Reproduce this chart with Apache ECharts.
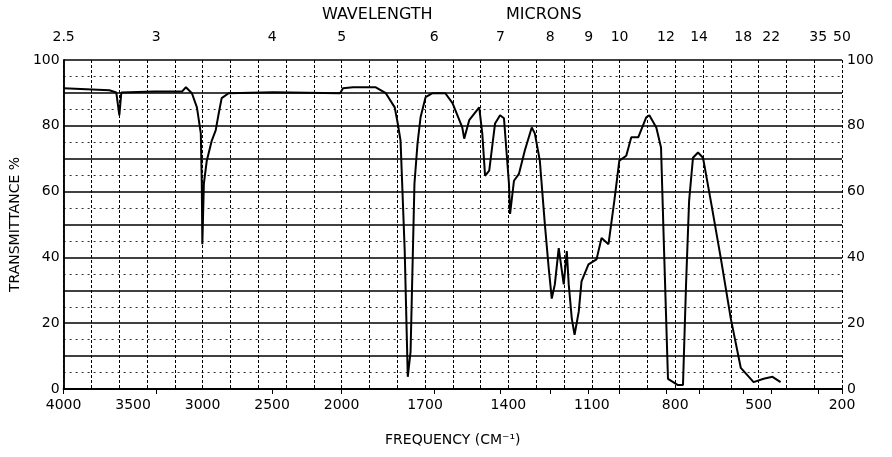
<!DOCTYPE html>
<html>
<head>
<meta charset="UTF-8">
<script src="https://cdn.jsdelivr.net/npm/echarts@6/dist/echarts.min.js"></script>
</head>
<body style="margin:0;background:#fff">
<div id="chart" style="width:892px;height:457px;"></div>
<script>
// spectrum: frequency (cm-1) and transmittance (%)
var waveNumbers = [4000, 3671, 3621, 3599, 3585, 3349, 3149, 3120, 3077, 3041, 3013, 3006, 3002, 2991, 2970, 2934, 2906, 2884, 2863, 2813, 2491, 2011, 1995, 1959, 1877, 1841, 1809, 1798, 1788, 1773, 1762, 1752, 1738, 1727, 1716, 1698, 1673, 1627, 1601, 1566, 1559, 1541, 1505, 1494, 1484, 1469, 1448, 1430, 1416, 1398, 1394, 1380, 1362, 1341, 1316, 1305, 1287, 1269, 1255, 1244, 1233, 1219, 1201, 1190, 1183, 1172, 1162, 1147, 1137, 1112, 1083, 1065, 1040, 1019, 1001, 976, 958, 933, 904, 893, 868, 851, 840, 826, 790, 772, 761, 750, 736, 718, 700, 672, 636, 600, 564, 518, 482, 450, 421];
var transmittance = [91.4, 90.8, 90.1, 83.2, 90.1, 90.4, 90.4, 91.7, 89.9, 85.6, 77.7, 62.4, 44.0, 62.4, 69.4, 75.5, 78.6, 83.8, 88.4, 89.9, 90.2, 89.9, 91.4, 91.7, 91.7, 89.9, 85.6, 80.7, 75.5, 41.9, 3.7, 11.3, 62.4, 74.6, 82.6, 88.7, 89.9, 89.9, 86.9, 79.5, 76.1, 81.7, 85.6, 77.7, 64.8, 66.4, 80.7, 83.2, 82.3, 62.4, 53.2, 63.3, 65.4, 72.5, 79.5, 77.7, 69.4, 50.2, 36.7, 27.5, 31.8, 42.8, 31.8, 41.9, 31.8, 21.4, 16.5, 23.5, 32.7, 37.9, 39.4, 45.9, 44.0, 57.2, 69.4, 70.9, 76.5, 76.5, 82.6, 83.2, 79.5, 73.4, 41.9, 3.1, 1.2, 1.2, 31.8, 57.2, 70.3, 71.9, 70.3, 57.2, 39.8, 21.4, 6.4, 2.1, 3.1, 3.7, 2.1];

var freqTicks = [4000, 3500, 3000, 2500, 2000, 1700, 1400, 1100, 800, 500, 200];
var micronTicks = [2.5, 3, 4, 5, 6, 7, 8, 9, 10, 12, 14, 18, 22, 35, 50];
var percentTicks = [0, 20, 40, 60, 80, 100];

// chart paper: 4000-2000 at one scale, 2000-200 at twice that
function toPos(nu) { return nu >= 2000 ? (4000 - nu) / 1000 : 2 + (2000 - nu) / 500; }
function toNu(p) { return p <= 2 ? 4000 - p * 1000 : 2000 - (p - 2) * 500; }

var font = 'DejaVu Sans';
var freqPos = freqTicks.map(toPos);
var micronPos = micronTicks.map(function (m) { return toPos(10000 / m); });
var points = waveNumbers.map(function (nu, i) { return [toPos(nu), transmittance[i]]; });

var chart = echarts.init(document.getElementById('chart'));
chart.setOption({
  animation: false,
  backgroundColor: '#fff',
  grid: { left: 59, right: 50, top: 60, bottom: 68 },
  graphic: [
    { type: 'text', left: 322, top: 7, style: { text: 'WAVELENGTH', font: '16px ' + font, fill: '#000' } },
    { type: 'text', left: 506, top: 7, style: { text: 'MICRONS', font: '16px ' + font, fill: '#000' } }
  ],
  xAxis: [
    {
      type: 'value', position: 'bottom', min: 0, max: 5.6, interval: 0.2,
      name: 'FREQUENCY (CM⁻¹)', nameLocation: 'middle', nameGap: 44,
      nameTextStyle: { fontFamily: font, fontSize: 14, color: '#000' },
      axisLine: { lineStyle: { color: '#000', width: 2 } },
      axisTick: { show: false },
      axisLabel: {
        customValues: freqPos, margin: 9, fontFamily: font, fontSize: 14, color: '#000',
        formatter: function (v) { return Math.round(toNu(v)); }
      },
      splitLine: { show: true, lineStyle: { color: '#000', width: 1, type: [3, 2] } }
    },
    {
      type: 'value', position: 'top', min: 0, max: 5.6, offset: 10,
      axisLine: { show: true, lineStyle: { color: '#000', width: 1.5 } },
      axisTick: { show: true, customValues: micronPos, inside: true, length: 5, lineStyle: { color: '#000' } },
      axisLabel: {
        customValues: micronPos, margin: 6, fontFamily: font, fontSize: 14, color: '#000',
        formatter: function (v) { return Math.round(100000 / toNu(v)) / 10; }
      },
      splitLine: { show: false }
    }
  ],
  yAxis: [
    {
      type: 'value', position: 'left', min: 0, max: 100, interval: 10,
      name: 'TRANSMITTANCE %', nameLocation: 'middle', nameGap: 31,
      nameTextStyle: { fontFamily: font, fontSize: 14, color: '#000' },
      axisLine: { show: true, lineStyle: { color: '#000', width: 1.5 } },
      axisTick: { show: false },
      axisLabel: { customValues: percentTicks, margin: 4, fontFamily: font, fontSize: 14, color: '#000' },
      splitLine: { show: true, lineStyle: { color: '#000', width: 1.5 } },
      minorTick: { show: false, splitNumber: 2 },
      minorSplitLine: { show: true, lineStyle: { color: '#333', width: 1, type: [2, 4] } }
    },
    {
      type: 'value', position: 'right', min: 0, max: 100, interval: 10,
      axisLine: { show: true, lineStyle: { color: '#000', width: 1.5 } },
      axisTick: { show: false },
      axisLabel: { customValues: percentTicks, margin: 5, fontFamily: font, fontSize: 14, color: '#000' },
      splitLine: { show: false }
    }
  ],
  series: [
    {
      type: 'line', xAxisIndex: 0, yAxisIndex: 0, data: points,
      showSymbol: false, smooth: false,
      lineStyle: { color: '#000', width: 2 }
    }
  ]
});
</script>
</body>
</html>
